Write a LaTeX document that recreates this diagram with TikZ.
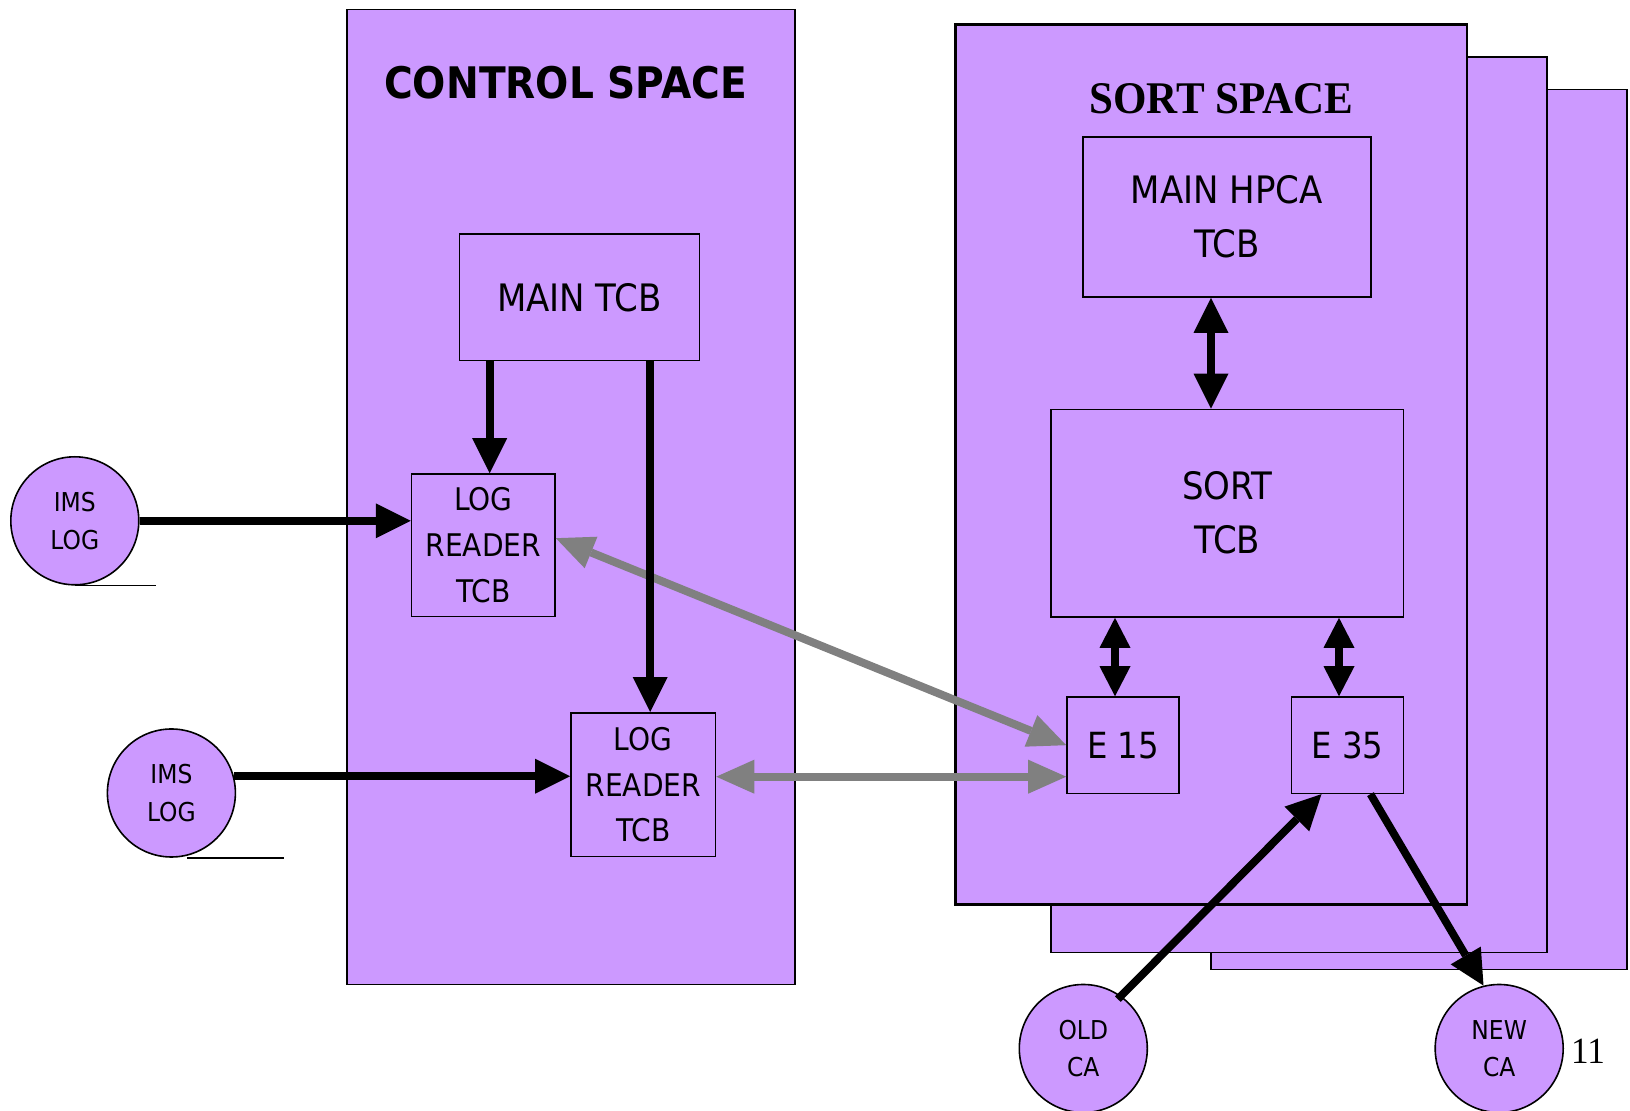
\documentclass[tikz,border=0pt]{standalone}
\usepackage{fontspec}
\setmainfont{DejaVu Sans}[FakeStretch=0.9]
\newfontfamily\serifhead{Liberation Serif}[FakeStretch=0.95]
\usetikzlibrary{arrows.meta,calc}
\definecolor{lilac}{RGB}{204,153,255}
\definecolor{linkgrey}{RGB}{128,128,128}
\tikzset{
  bigarr/.tip={Triangle[length=17.5pt,width=17.5pt,line width=0pt]},
  smallarr/.tip={Triangle[length=15pt,width=15.5pt,line width=0pt]},
  greyarr/.tip={Triangle[length=19pt,width=17pt,line width=0pt]},
}
\begin{document}
\begin{tikzpicture}[x=0.5pt,y=-0.5pt,
  space/.style={draw=black,fill=lilac,line width=0.8pt},
  tcb/.style={draw=black,fill=lilac,line width=0.8pt,inner sep=0pt,align=center,
    font={\fontsize{18.9pt}{27pt}\selectfont}},
  lrt/.style={tcb,font={\fontsize{15.6pt}{22.9pt}\selectfont}},
  ebox/.style={tcb,font={\fontsize{18pt}{22pt}\selectfont},minimum width=56pt,minimum height=48.15pt},
  disk/.style={circle,draw=black,fill=lilac,line width=0.8pt,minimum size=64pt,inner sep=0pt,
    align=center,font={\fontsize{13pt}{18.75pt}\selectfont}},
  blk/.style={draw=black,line width=3.9pt},
  gry/.style={draw=linkgrey,line width=4pt,linkgrey},
]
\useasboundingbox (0,0) rectangle (1630,1111);

% address spaces
\filldraw[space] (347,9.4) rectangle (795.2,984.4);
\filldraw[space] (1211,89.4) rectangle (1626.8,969.5);
\filldraw[space] (1051,57.2) rectangle (1546.9,952.5);
\filldraw[space,line width=1.3pt] (955.4,24.5) rectangle (1467,904.4);

\node[font={\bfseries\fontsize{21.75pt}{26pt}\selectfont}] (ctitle) at (565.5,83) {CONTROL SPACE};
\node[font={\serifhead\bfseries\fontsize{22.65pt}{27pt}\selectfont}] (stitle) at (1221.5,98.3) {SORT SPACE};

% task control blocks
\node[tcb,minimum width=120pt,minimum height=63.3pt] (main) at (579.5,297.3) {MAIN TCB};
\node[lrt,minimum width=71.75pt,minimum height=71.2pt] (lr1) at (483.3,545.2) {LOG\\READER\\TCB};
\node[lrt,minimum width=72.25pt,minimum height=71.85pt] (lr2) at (643.2,784.7) {LOG\\READER\\TCB};
\node[tcb,minimum width=144pt,minimum height=80pt] (hpca) at (1227,217) {MAIN HPCA\\TCB};
\node[tcb,minimum width=176.15pt,minimum height=103.85pt] (sort) at (1227.2,513.2) {SORT\\TCB};
\node[ebox] (e15) at (1123,745.2) {E 15};
\node[ebox] (e35) at (1347.5,745.2) {E 35};

% data sets
\node[disk] (ims1) at (74.8,520.8) {IMS\\LOG};
\node[disk] (ims2) at (171.4,793) {IMS\\LOG};
\node[disk] (old) at (1083.3,1048.5) {OLD\\CA};
\node[disk] (new) at (1499.2,1048.5) {NEW\\CA};
\draw[line width=0.8pt] (ims1.south) -- ++(81,0);
\draw[line width=0.8pt] ($(ims2.south)+(15.5,0)$) -- ++(97,0);

\node[font={\serifhead\fontsize{18.5pt}{22pt}\selectfont}] (pg) at (1588,1050.8) {11};

% exit traffic
\coordinate (g1) at ($(lr1.east)+(0,-7)$);
\draw[gry,greyarr-greyarr] (g1) -- (e15.west);
\coordinate (g2) at ($(lr2.east)+(0,-8)$);
\draw[gry,greyarr-greyarr] (g2) -- (g2 -| e15.west);

% log flow
\draw[blk,-bigarr] (ims1.east) -- (ims1.east -| lr1.west);
\draw[blk,-bigarr] (ims2.15) -- (ims2.15 -| lr2.west);
\coordinate (m1) at ($(main.south west)+(31,0)$);
\draw[blk,-bigarr] (m1) -- (m1 |- lr1.north);
\coordinate (m2) at ($(main.south west)+(191.5,0)$);
\draw[blk,-bigarr] (m2) -- (m2 |- lr2.north);

% sort space links
\coordinate (h1) at ($(hpca.south)+(-16,0)$);
\draw[blk,bigarr-bigarr] (h1) -- (h1 |- sort.north);
\coordinate (s1) at ($(e15.north)+(-8,0)$);
\draw[blk,line width=3.6pt,smallarr-smallarr] (s1 |- sort.south) -- (s1);
\coordinate (s2) at ($(e35.north)+(-8.5,0)$);
\draw[blk,line width=3.6pt,smallarr-smallarr] (s2 |- sort.south) -- (s2);

\coordinate (oldout) at ($(old.center)!0.93!(old.55)$);
\coordinate (e35in) at ($(e35.south)+(-26,0)$);
\draw[blk,-bigarr] (oldout) -- (e35in);
\coordinate (e35out) at ($(e35.south)+(23,0)$);
\draw[blk,-bigarr] (e35out) -- (new.104);
\end{tikzpicture}
\end{document}
